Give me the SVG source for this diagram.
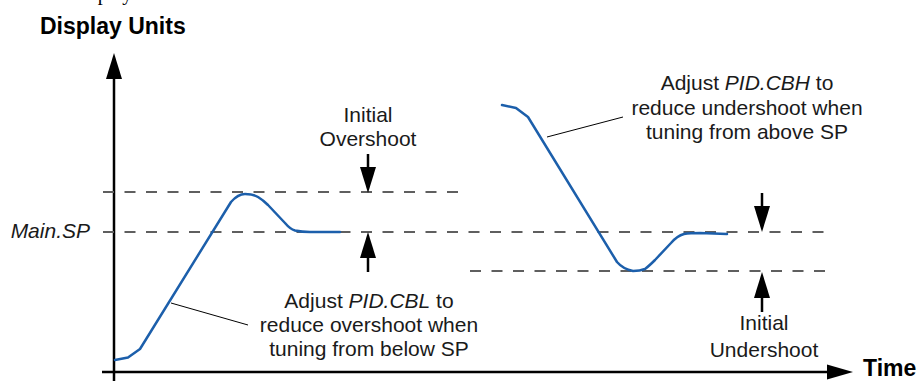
<svg xmlns="http://www.w3.org/2000/svg" width="919" height="381" viewBox="0 0 919 381">
<style>
.t{font-family:"Liberation Sans",Arial,sans-serif;font-size:21px;fill:#1a1a1a}
.b{font-family:"Liberation Sans",Arial,sans-serif;font-size:23px;font-weight:bold;fill:#000}
.i{font-style:italic}
.dash{stroke:#5f5f5f;stroke-width:2;stroke-dasharray:11 10.5;fill:none}
.axis{stroke:#000;stroke-width:2.5;fill:none}
.arr{stroke:#000;stroke-width:2.5;fill:none}
.curve{stroke:#1c5fab;stroke-width:2.5;fill:none;stroke-linejoin:round;stroke-linecap:round}
.lead{stroke:#000;stroke-width:1;fill:none}
</style>
<rect width="919" height="381" fill="#fff"/>
<text x="70" y="-0.5" font-family="Liberation Serif,serif" font-size="20" fill="#000">Display</text>
<g id="axes">
<line class="axis" x1="114" y1="76" x2="114" y2="381"/>
<polygon points="114,53 106,79 122,79" fill="#000"/>
<line class="axis" x1="102" y1="372" x2="830" y2="372"/>
<polygon points="853,372 827,364.5 827,379.5" fill="#000"/>
<text class="b" x="40" y="34">Display Units</text>
<text class="b" x="863" y="376">Time</text>
</g>
<g id="reference-lines">
<line class="dash" x1="103" y1="192" x2="466" y2="192"/>
<line class="dash" x1="103" y1="232" x2="832" y2="232"/>
<line class="dash" x1="470" y1="271" x2="832" y2="271"/>
<text class="t i" x="90" y="238" text-anchor="end">Main.SP</text>
</g>
<g id="curve-below">
<path class="curve" d="M115,360 L128,357.5 L140,349 L231,202 Q238,194 245,194 Q253,194 258,197 Q263,200 268,205 L285,223 Q290,229 295,230.5 Q302,232 310,232 L340,232"/>
</g>
<g id="curve-above">
<path class="curve" d="M502,105 L516,108 L528,117 L617,262 Q623,269 633,271 Q640,271 645,269 Q649,266 655,260 L671,243 Q677,236 684,234 Q690,233 700,233 L727,234"/>
</g>
<g id="overshoot-marker">
<line class="arr" x1="368" y1="154" x2="368" y2="170"/>
<polygon points="368,193 360,167 376,167" fill="#000"/>
<line class="arr" x1="368" y1="256" x2="368" y2="272"/>
<polygon points="368,232 360,258 376,258" fill="#000"/>
<text class="t" text-anchor="middle"><tspan x="368" y="122">Initial</tspan><tspan x="368" y="146">Overshoot</tspan></text>
</g>
<g id="undershoot-marker">
<line class="arr" x1="762" y1="193" x2="762" y2="210"/>
<polygon points="762,232 754,206 770,206" fill="#000"/>
<line class="arr" x1="762" y1="295" x2="762" y2="312"/>
<polygon points="762,272 754,298 770,298" fill="#000"/>
<text class="t" text-anchor="middle"><tspan x="764" y="330">Initial</tspan><tspan x="764" y="357">Undershoot</tspan></text>
</g>
<g id="note-cbl">
<text class="t" text-anchor="middle"><tspan x="369" y="308">Adjust <tspan class="i">PID.CBL</tspan> to</tspan><tspan x="369" y="332">reduce overshoot when</tspan><tspan x="369" y="356">tuning from below SP</tspan></text>
</g>
<g id="note-cbh">
<text class="t" text-anchor="middle"><tspan x="747" y="90">Adjust <tspan class="i">PID.CBH</tspan> to</tspan><tspan x="747" y="115">reduce undershoot when</tspan><tspan x="747" y="139">tuning from above SP</tspan></text>
</g>
<g id="connectors">
<line class="lead" x1="171" y1="303" x2="248" y2="325"/>
<line class="lead" x1="547" y1="137" x2="623" y2="117"/>
</g>
</svg>
